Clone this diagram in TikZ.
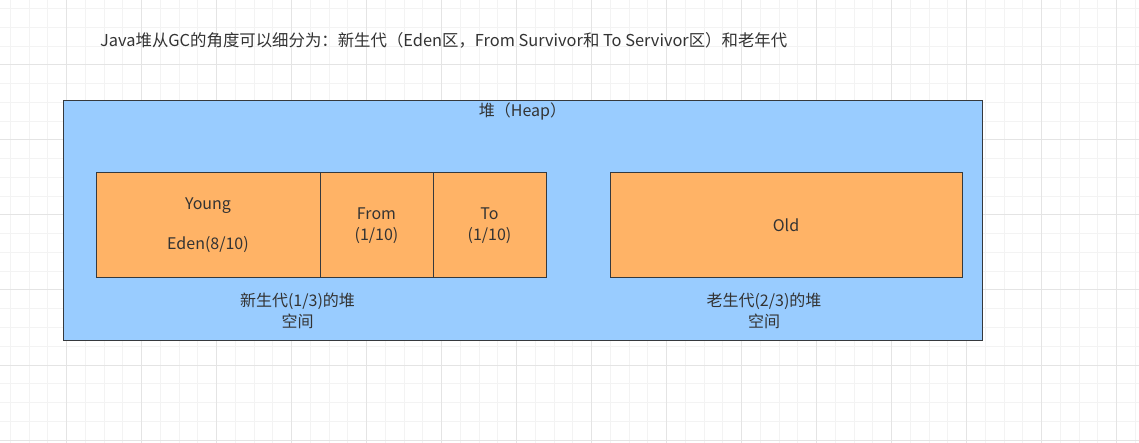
\documentclass[tikz,border=0pt]{standalone}
\usepackage{fontspec}
\setmainfont{Noto Sans CJK SC}
\definecolor{heapblue}{HTML}{99CCFF}
\definecolor{genorange}{HTML}{FFB366}
\definecolor{edgegray}{HTML}{36393D}
\definecolor{txtgray}{HTML}{333333}
\definecolor{gridminor}{HTML}{F3F3F3}
\definecolor{gridmajor}{HTML}{E4E4E4}
\tikzset{
  area/.style={draw=edgegray,line width=1pt,fill=#1,inner sep=0pt,text=txtgray},
  txt/.style={text=txtgray,font=\fontsize{16}{21}\selectfont,align=center,inner sep=0pt}
}
\begin{document}
\begin{tikzpicture}[x=1pt,y=-1pt]
      \useasboundingbox[fill=white] (0,0) rectangle (1139,443);
      % background grid
      \foreach \i in {0,...,60} {
        \draw[gridminor,line width=1pt] ({10.42+\i*18.75},0) -- ++(0,443);
      }
      \foreach \i in {0,...,23} {
        \draw[gridminor,line width=1pt] (0,{8.75+\i*18.75}) -- ++(1139,0);
      }
      \foreach \i in {0,...,14} {
        \draw[gridmajor,line width=1pt] ({66.67+\i*75},0) -- ++(0,443);
      }
      \foreach \i in {0,...,5} {
        \draw[gridmajor,line width=1pt] (0,{65+\i*75}) -- ++(1139,0);
      }

      \node[txt,anchor=west,font=\fontsize{16.4}{21}\selectfont] (title) at (100,40)
        {Java堆从GC的角度可以细分为：新生代（Eden区，From Survivor和 To Servivor区）和老年代};

      \node[area=heapblue,minimum width=919pt,minimum height=239pt] (heap) at (522.5,220.5) {};
      \node[txt,anchor=north] (heaplabel) at ([yshift=-2pt]heap.north) {堆（Heap）};

      \node[area=genorange,minimum width=224pt,minimum height=105pt,txt] (eden) at (208,225.5)
        {Young\\[19pt]Eden(8/10)};
      \node[area=genorange,minimum width=113pt,minimum height=105pt,txt] (from) at (376.5,225.5)
        {From\\(1/10)};
      \node[area=genorange,minimum width=113pt,minimum height=105pt,txt] (to) at (489.5,225.5)
        {To\\(1/10)};
      \node[area=genorange,minimum width=352pt,minimum height=105pt,txt] (old) at (786,225.5)
        {Old};

      \node[txt] (younglabel) at (297.5,310.5) {新生代(1/3)的堆\\空间};
      \node[txt] (oldlabel) at (764,310.5) {老生代(2/3)的堆\\空间};
    \end{tikzpicture}
\end{document}
